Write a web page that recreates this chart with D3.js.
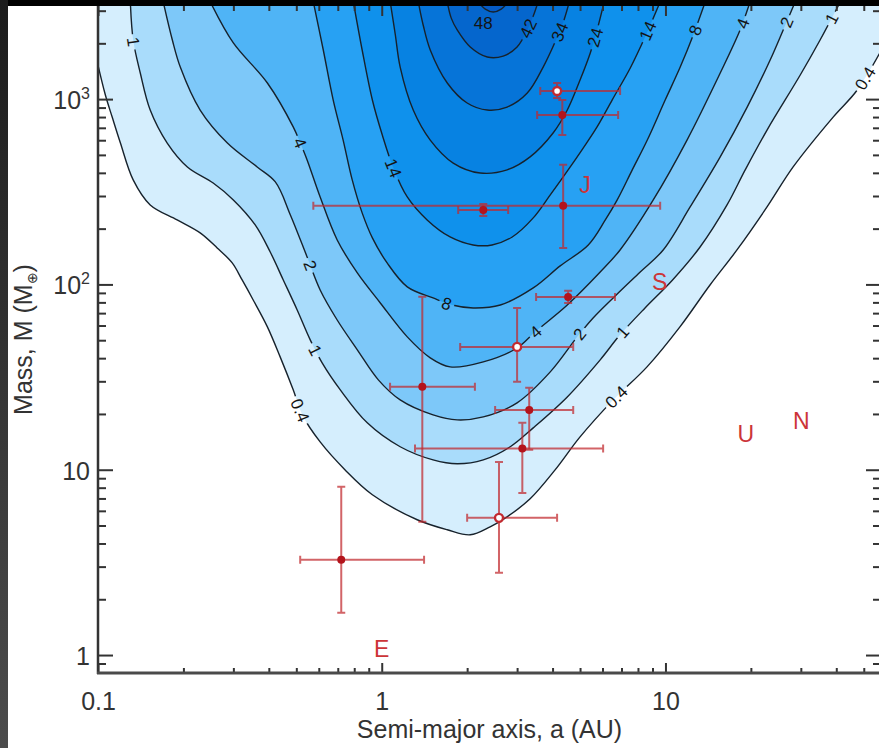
<!DOCTYPE html>
<html>
<head>
<meta charset="utf-8">
<script src="https://cdn.jsdelivr.net/npm/d3@7"></script>
<style>
  html, body { margin: 0; padding: 0; background: #fff; }
  svg { display: block; }
</style>
</head>
<body>
<svg id="chart" width="879" height="748"></svg>
<script>
// ---------------------------------------------------------------
// Sensitivity contours in the semi-major axis / mass plane
// ---------------------------------------------------------------
const levels = [0.4, 1, 2, 4, 8, 14, 24, 34, 42, 48];
const levelColors = ["#d5eefd", "#a9dcfb", "#7dc8f9", "#4fb4f6", "#27a1f3",
                     "#0f91ec", "#0782e2", "#0674d8", "#0566cd", "#055ac4"];

// Contour traces, each point is [log10 a (AU), log10 M (Earth masses)]
const c04 = [[-1.006,3.222],[-0.974,3.022],[-0.950,2.903],[-0.921,2.763],[-0.876,2.564],[-0.816,2.429],
  [-0.721,2.348],[-0.640,2.278],[-0.580,2.197],[-0.527,2.116],[-0.492,2.024],[-0.453,1.916],[-0.403,1.771],
  [-0.358,1.609],[-0.312,1.431],[-0.280,1.296],[-0.217,1.150],[-0.129,0.999],[-0.033,0.865],[0.125,0.730],
  [0.231,0.676],[0.312,0.649],[0.382,0.692],[0.442,0.746],[0.523,0.843],[0.611,0.999],[0.699,1.177],
  [0.816,1.377],[0.935,1.555],[1.051,1.771],[1.157,1.997],[1.252,2.186],[1.358,2.418],[1.450,2.634],
  [1.591,2.903],[1.676,3.049],[1.770,3.290]];
const c1 = [[-0.886,3.524],[-0.876,3.319],[-0.851,3.141],[-0.816,2.941],[-0.756,2.763],[-0.685,2.634],
  [-0.594,2.547],[-0.523,2.456],[-0.446,2.321],[-0.393,2.175],[-0.347,2.024],[-0.298,1.862],[-0.252,1.701],
  [-0.210,1.577],[-0.146,1.431],[-0.051,1.253],[0.065,1.124],[0.181,1.053],[0.266,1.032],[0.358,1.053],
  [0.453,1.124],[0.534,1.226],[0.654,1.393],[0.770,1.593],[0.840,1.728],[0.928,1.873],[1.025,2.024],
  [1.122,2.202],[1.217,2.429],[1.281,2.618],[1.358,2.833],[1.475,3.130],[1.545,3.319],[1.616,3.524]];
const c2 = [[-0.770,3.524],[-0.738,3.319],[-0.710,3.173],[-0.640,2.941],[-0.544,2.763],[-0.439,2.634],
  [-0.375,2.553],[-0.322,2.375],[-0.263,2.148],[-0.217,1.970],[-0.157,1.808],[-0.086,1.647],[-0.012,1.485],
  [0.065,1.377],[0.181,1.296],[0.266,1.269],[0.358,1.285],[0.477,1.361],[0.594,1.528],[0.689,1.717],
  [0.745,1.819],[0.823,1.938],[0.911,2.067],[0.992,2.186],[1.087,2.418],[1.193,2.688],[1.288,2.957],
  [1.369,3.211],[1.415,3.373],[1.457,3.524]];
const c4 = [[-0.604,3.524],[-0.523,3.303],[-0.403,3.087],[-0.312,2.850],[-0.287,2.763],[-0.263,2.672],
  [-0.217,2.472],[-0.157,2.240],[-0.086,2.062],[-0.005,1.900],[0.090,1.717],[0.171,1.604],[0.241,1.555],
  [0.358,1.582],[0.477,1.657],[0.541,1.744],[0.654,1.889],[0.770,2.067],[0.840,2.186],[0.957,2.456],
  [1.076,2.779],[1.193,3.141],[1.263,3.373],[1.298,3.524]];
const c8 = [[-0.241,3.524],[-0.206,3.265],[-0.171,2.995],[-0.136,2.779],[-0.104,2.564],[-0.069,2.386],
  [-0.033,2.251],[0.019,2.116],[0.090,1.987],[0.181,1.927],[0.248,1.889],[0.322,1.873],[0.418,1.889],
  [0.534,1.981],[0.629,2.100],[0.728,2.213],[0.788,2.348],[0.830,2.456],[0.883,2.618],[0.936,2.779],
  [0.999,2.995],[1.052,3.173],[1.098,3.346],[1.140,3.524]];
const c14 = [[-0.100,3.524],[-0.069,3.265],[-0.033,2.995],[0.002,2.806],[0.041,2.628],[0.090,2.472],
  [0.160,2.348],[0.241,2.256],[0.322,2.213],[0.389,2.213],[0.460,2.256],[0.534,2.359],[0.594,2.483],
  [0.657,2.618],[0.710,2.736],[0.759,2.850],[0.812,2.995],[0.876,3.168],[0.928,3.335],[0.981,3.524]];
const c24 = [[0.030,3.524],[0.048,3.346],[0.065,3.173],[0.111,2.941],[0.171,2.779],[0.252,2.655],
  [0.347,2.601],[0.442,2.618],[0.523,2.688],[0.604,2.817],[0.654,2.941],[0.699,3.103],[0.735,3.249],
  [0.759,3.373],[0.784,3.524]];
const c34 = [[0.129,3.524],[0.146,3.400],[0.171,3.265],[0.231,3.087],[0.301,2.979],[0.372,2.941],
  [0.442,2.957],[0.513,3.033],[0.569,3.173],[0.611,3.308],[0.640,3.416],[0.661,3.524]];
const c42 = [[0.231,3.524],[0.245,3.437],[0.266,3.373],[0.312,3.281],[0.372,3.227],[0.428,3.232],
  [0.477,3.281],[0.513,3.373],[0.534,3.448],[0.551,3.524]];
const c48 = [[0.340,3.524],[0.365,3.486],[0.393,3.470],[0.421,3.486],[0.446,3.524]];

const contourTraces = [c04, c1, c2, c4, c8, c14, c24, c34, c42, c48];

// Contour labels: [level, log10 a, log10 M]
const contourLabels = [
  [48, 0.358, 3.410], [42, 0.516, 3.383], [34, 0.629, 3.362], [24, 0.756, 3.330],
  [14, 0.946, 3.362], [8, 1.098, 3.373], [4, 1.263, 3.416], [2, 1.422, 3.416],
  [1, 1.584, 3.437], [0.4, 1.704, 3.114],
  [1, -0.872, 3.308], [4, -0.287, 2.763], [14, 0.037, 2.628], [2, -0.248, 2.105],
  [1, -0.234, 1.647], [0.4, -0.291, 1.318], [8, 0.231, 1.906],
  [4, 0.537, 1.755], [2, 0.692, 1.738], [1, 0.833, 1.765], [0.4, 0.819, 1.409]
];

// Detected planets: semi-major axis (AU) and mass (Earth masses) with error ranges
const planetA    = [4.15, 4.33, 4.36, 2.28, 4.54, 3.00, 1.39, 3.31, 3.13, 2.59, 0.72];
const planetALo  = [3.62, 3.53, 0.574, 1.86, 3.50, 1.89, 1.07, 2.51, 1.31, 2.00, 0.516];
const planetAHi  = [6.92, 6.81, 9.58, 2.79, 6.64, 4.73, 2.13, 4.73, 6.03, 4.15, 1.41];
const planetM    = [1106, 821, 266, 252, 85.6, 46.0, 28.0, 21.0, 13.0, 5.50, 3.27];
const planetMLo  = [1014, 640, 157, 234, 79.4, 29.8, 5.24, 12.8, 7.50, 2.78, 1.69];
const planetMHi  = [1222, 988, 442, 272, 92.3, 74.7, 85.7, 27.7, 17.9, 11.0, 8.09];
const planetOpen = [true, false, false, false, false, true, false, false, false, true, false];

// Solar System planets for reference
const solarNames = ["E", "J", "S", "U", "N"];
const solarA = [1.0, 5.20, 9.54, 19.2, 30.1];
const solarM = [1.0, 318, 95.2, 14.5, 17.1];

// Axis ticks
const xMajor = [0.1, 1, 10];
const xTickLabels = ["0.1", "1", "10"];
const xMinor = [0.2,0.3,0.4,0.5,0.6,0.7,0.8,0.9, 2,3,4,5,6,7,8,9, 20,30,40,50];
const yMajor = [1, 10, 100, 1000];
const yTickBase = ["1", "10", "10", "10"];
const yTickExp  = ["", "", "2", "3"];
const yMinor = [0.9, 2,3,4,5,6,7,8,9, 20,30,40,50,60,70,80,90, 200,300,400,500,600,700,800,900, 2000,3000];

// ---------------------------------------------------------------
const W = 879, H = 748;
const pL = 98, pR = 881, pT = 6, pB = 673;
const FONT = "'Liberation Sans', Arial, Helvetica, sans-serif";

const svg = d3.select("#chart");
const x = d3.scaleLog().domain([0.1, 57.5]).range([pL, pR]);
const y = d3.scaleLog().domain([0.8, 3180]).range([pB, pT]);

const px = p => x(Math.pow(10, p[0]));
const py = p => y(Math.pow(10, p[1]));
const lineGen = d3.line().x(px).y(py).curve(d3.curveCatmullRom.alpha(0.5));

svg.append("rect").attr("width", W).attr("height", H).attr("fill", "#fff");

const defs = svg.append("defs");
defs.append("clipPath").attr("id", "plotClip")
  .append("rect").attr("x", pL).attr("y", pT)
  .attr("width", pR - pL).attr("height", pB - pT);

const mask = defs.append("mask").attr("id", "labelGaps")
  .attr("maskUnits", "userSpaceOnUse")
  .attr("x", 0).attr("y", 0).attr("width", W).attr("height", H);
mask.append("rect").attr("width", W).attr("height", H).attr("fill", "#fff");

const grad = defs.append("linearGradient").attr("id", "edgeGrad")
  .attr("x1", 0).attr("y1", 0).attr("x2", 0).attr("y2", 1);
grad.append("stop").attr("offset", "0%").attr("stop-color", "#1c1c1c");
grad.append("stop").attr("offset", "100%").attr("stop-color", "#4c4c4c");

const plot = svg.append("g").attr("clip-path", "url(#plotClip)");

// Filled bands, lowest level first
const fillG = plot.append("g");
contourTraces.forEach((pts, i) => {
  const first = pts[0], last = pts[pts.length - 1];
  const d = lineGen(pts) + `L${px(last)},${pT - 12}L${px(first)},${pT - 12}Z`;
  fillG.append("path").attr("d", d).attr("fill", levelColors[i]).attr("stroke", "none");
});

// Contour lines, with gaps where labels sit
const lineG = plot.append("g").attr("mask", "url(#labelGaps)");
const lineNodes = new Map();
contourTraces.forEach((pts, i) => {
  const p = lineG.append("path").attr("d", lineGen(pts))
    .attr("fill", "none").attr("stroke", "#17222c").attr("stroke-width", 1.4);
  lineNodes.set(levels[i], p.node());
});

// Contour labels, placed on their line and turned along it
const labelG = plot.append("g")
  .attr("font-family", FONT).attr("font-size", 17).attr("fill", "#141414");
contourLabels.forEach(([lev, la, lm]) => {
  const tx = x(Math.pow(10, la)), ty = y(Math.pow(10, lm));
  const node = lineNodes.get(lev);
  const L = node.getTotalLength();
  let bd = Infinity, bs = 0, bp = null;
  for (let s = 0; s <= L; s += 1) {
    const q = node.getPointAtLength(s);
    const dd = (q.x - tx) ** 2 + (q.y - ty) ** 2;
    if (dd < bd) { bd = dd; bs = s; bp = q; }
  }
  let cx = tx, cy = ty, ang = 0;
  if (Math.sqrt(bd) < 10) {
    const q1 = node.getPointAtLength(Math.max(0, bs - 4));
    const q2 = node.getPointAtLength(Math.min(L, bs + 4));
    ang = Math.atan2(q2.y - q1.y, q2.x - q1.x) * 180 / Math.PI;
    if (ang > 90) ang -= 180;
    if (ang < -90) ang += 180;
    cx = bp.x; cy = bp.y;
  }
  const tr = `translate(${cx},${cy}) rotate(${ang})`;
  const t = labelG.append("text").attr("transform", tr)
    .attr("text-anchor", "middle").attr("dy", "0.36em").text(String(lev));
  const w = t.node().getComputedTextLength();
  mask.append("rect").attr("transform", tr)
    .attr("x", -w / 2 - 3).attr("y", -7).attr("width", w + 6).attr("height", 14)
    .attr("fill", "#000");
});

// Error bars and planet markers
const barColor = "#c0282d";
const barG = svg.append("g").attr("stroke", barColor).attr("stroke-width", 2)
  .attr("stroke-opacity", 0.72).attr("fill", "none");
const cap = 4;
planetA.forEach((a, i) => {
  const cx = x(a), cy = y(planetM[i]);
  const xl = x(planetALo[i]), xr = x(planetAHi[i]);
  const yTop = y(planetMHi[i]), yBot = y(planetMLo[i]);
  barG.append("path").attr("d",
    `M${xl},${cy}H${xr}M${xl},${cy - cap}V${cy + cap}M${xr},${cy - cap}V${cy + cap}` +
    `M${cx},${yTop}V${yBot}M${cx - cap},${yTop}H${cx + cap}M${cx - cap},${yBot}H${cx + cap}`);
});
const dotG = svg.append("g");
planetA.forEach((a, i) => {
  const c = dotG.append("circle").attr("cx", x(a)).attr("cy", y(planetM[i]));
  if (planetOpen[i]) {
    c.attr("r", 4).attr("fill", "#fff").attr("stroke", "#c22a30").attr("stroke-width", 2.4);
  } else {
    c.attr("r", 4).attr("fill", "#b3141c");
  }
});

// Solar System letters
svg.append("g").attr("font-family", FONT).attr("font-size", 23).attr("fill", "#cc3538")
  .attr("text-anchor", "middle")
  .selectAll("text").data(solarNames).join("text")
  .attr("x", (d, i) => x(solarA[i])).attr("y", (d, i) => y(solarM[i]) + 2)
  .text(d => d);

// Axes
const axG = svg.append("g");
function styleTicks(g) {
  g.select(".domain").remove();
  g.selectAll(".tick line").attr("stroke", "#333").attr("stroke-width", 2);
  g.selectAll(".tick text").attr("fill", "#333").attr("font-size", 25).attr("font-family", FONT);
}
axG.append("g").attr("transform", `translate(0,${pB})`)
  .call(d3.axisBottom(x).tickValues(xMajor).tickSize(-10).tickPadding(19)
    .tickFormat((d, i) => xTickLabels[i])).call(styleTicks);
axG.append("g").attr("transform", `translate(0,${pB})`)
  .call(d3.axisBottom(x).tickValues(xMinor).tickSize(-5).tickFormat("")).call(styleTicks);
axG.append("g").attr("transform", `translate(0,${pT})`)
  .call(d3.axisTop(x).tickValues(xMajor).tickSize(-10).tickFormat("")).call(styleTicks);
axG.append("g").attr("transform", `translate(0,${pT})`)
  .call(d3.axisTop(x).tickValues(xMinor).tickSize(-5).tickFormat("")).call(styleTicks);
axG.append("g").attr("transform", `translate(${pL},0)`)
  .call(d3.axisLeft(y).tickValues(yMajor).tickSize(-15).tickFormat("")).call(styleTicks);
axG.append("g").attr("transform", `translate(${pL},0)`)
  .call(d3.axisLeft(y).tickValues(yMinor).tickSize(-8).tickFormat("")).call(styleTicks);
axG.append("g").attr("transform", `translate(${pR},0)`)
  .call(d3.axisRight(y).tickValues(yMajor).tickSize(-15).tickFormat("")).call(styleTicks);
axG.append("g").attr("transform", `translate(${pR},0)`)
  .call(d3.axisRight(y).tickValues(yMinor).tickSize(-8).tickFormat("")).call(styleTicks);

// y tick labels with powers of ten
const yLab = axG.append("g").attr("font-family", FONT).attr("fill", "#333").attr("text-anchor", "end");
yMajor.forEach((v, i) => {
  const t = yLab.append("text").attr("x", 90).attr("y", y(v) + 10).attr("font-size", 25);
  t.append("tspan").text(yTickBase[i]);
  if (yTickExp[i]) t.append("tspan").attr("font-size", 16).attr("dy", -10).text(yTickExp[i]);
});

// Frame lines
axG.append("line").attr("x1", pL).attr("x2", pL).attr("y1", pT).attr("y2", pB + 1)
  .attr("stroke", "#333").attr("stroke-width", 2.5);
axG.append("line").attr("x1", pL - 1).attr("x2", pR).attr("y1", pB).attr("y2", pB)
  .attr("stroke", "#4a4a4a").attr("stroke-width", 3);
axG.append("line").attr("x1", pR).attr("x2", pR).attr("y1", pT).attr("y2", pB)
  .attr("stroke", "#333").attr("stroke-width", 2.5);

// Axis titles
svg.append("text").attr("x", (pL + pR) / 2).attr("y", 738)
  .attr("text-anchor", "middle").attr("font-family", FONT).attr("font-size", 25).attr("fill", "#333")
  .text("Semi-major axis, a (AU)");
const yTitle = svg.append("text").attr("transform", `translate(32,${(pT + pB) / 2}) rotate(-90)`)
  .attr("text-anchor", "middle").attr("font-family", FONT).attr("font-size", 25).attr("fill", "#333");
yTitle.append("tspan").text("Mass, M (M");
yTitle.append("tspan").attr("font-size", 14).attr("dy", 5).text("\u2295");
yTitle.append("tspan").attr("dy", -5).text(")");

// Page edges
svg.append("rect").attr("x", 0).attr("y", 0).attr("width", W).attr("height", pT).attr("fill", "#000");
svg.append("rect").attr("x", 0).attr("y", 0).attr("width", 8).attr("height", H).attr("fill", "url(#edgeGrad)");
</script>
</body>
</html>
